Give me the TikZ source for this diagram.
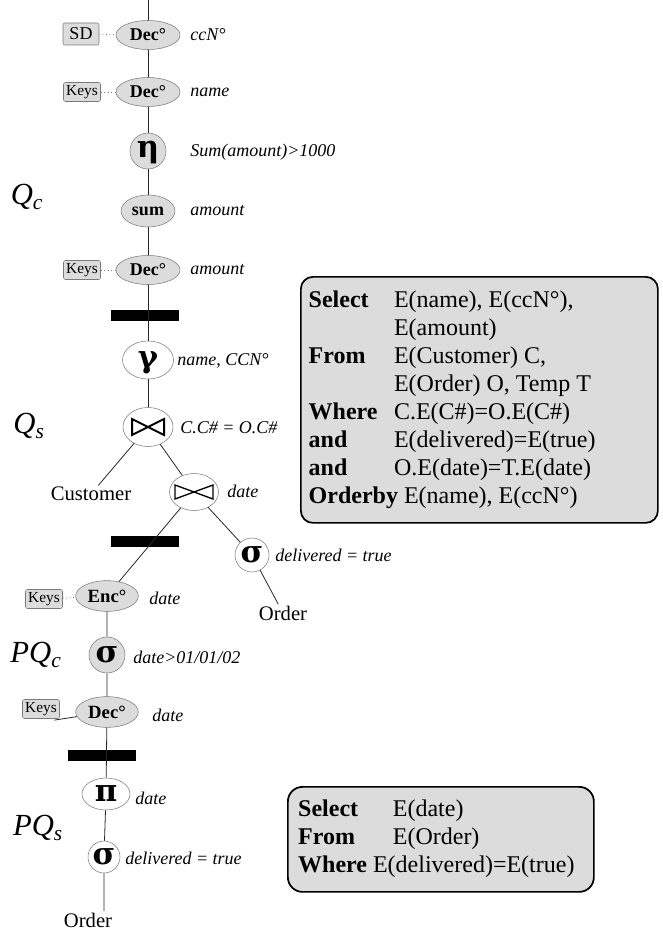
\documentclass[tikz,border=0pt]{standalone}
\usepackage{fontspec}
\setmainfont{Liberation Serif}
\newfontfamily\greekfont{DejaVu Serif}
\usetikzlibrary{shapes.geometric}
\definecolor{opgrey}{HTML}{DCDCDC}
\definecolor{rimgrey}{HTML}{7A7A7A}

\begin{document}
\begin{tikzpicture}[x=0.75pt,y=-0.75pt]
        \tikzset{
            opnode/.style={ellipse,draw=rimgrey,fill=opgrey,inner sep=0pt,minimum width=48pt,minimum height=21.75pt,font=\fontsize{13.5}{13.5}\selectfont\bfseries},
            opwhite/.style={opnode,fill=white},
            greek/.style={font=\fontsize{23}{23}\selectfont\greekfont\bfseries,text height=11.5pt,text depth=1pt},
            keynode/.style={rectangle,rounded corners=1.5pt,draw=rimgrey,fill=opgrey,inner sep=0pt,minimum width=27.75pt,minimum height=14.25pt,font=\fontsize{11.5}{11.5}\selectfont},
            barnode/.style={rectangle,fill=black,inner sep=0pt,minimum width=51pt,minimum height=8.25pt},
            lbl/.style={anchor=west,inner sep=0pt,font=\fontsize{13.5}{13.5}\selectfont\itshape},
            rel/.style={inner sep=1pt,font=\fontsize{15.5}{15.5}\selectfont},
            qlbl/.style={inner sep=0pt,font=\fontsize{23}{23}\selectfont\itshape},
            sqlbox/.style={rectangle,rounded corners=9pt,draw=black,line width=1.3pt,fill=opgrey,inner sep=0pt,anchor=north west,font=\fontsize{18}{21}\selectfont},
            spine/.style={draw=black!85,line width=0.6pt},
            keylink/.style={draw=rimgrey,dotted,line width=0.6pt},
        }
        \useasboundingbox (0,0) rectangle (663,934);

        % client side query Q_c
        \coordinate (top) at (148,0);
        \node[opnode] (dec1) at (148,35) {Dec°};
        \node[keynode,minimum width=27pt,minimum height=16.5pt,font=\fontsize{13.5}{13.5}\selectfont] (sd) at (81,34) {SD};
        \node[lbl] (l1) at (190,35) {ccN°};
        \node[opnode] (dec2) at (148,92) {Dec°};
        \node[keynode] (keys1) at (82,92) {Keys};
        \node[lbl] (l2) at (190,92) {name};
        \node[opnode,circle,minimum size=27pt,greek] (eta) at (148,151) {η};
        \node[lbl] (l3) at (190,152) {Sum(amount)>1000};
        \node[qlbl] (qc) at (27,197) {Q\textsubscript{c}};
        \node[opnode,minimum width=40.5pt,minimum height=24pt] (sumop) at (148,211) {sum};
        \node[lbl] (l4) at (190,211) {amount};
        \node[opnode] (dec3) at (148,270) {Dec°};
        \node[keynode] (keys2) at (82,270) {Keys};
        \node[lbl] (l5) at (190,270) {amount};
        \node[barnode] (bar1) at (145,315) {};

        % server side query Q_s
        \node[opwhite,greek,minimum width=38.25pt,minimum height=28.5pt] (gamma) at (148,360) {γ};
        \node[lbl] (l6) at (177,361) {name, CCN°};
        \node[opwhite,minimum width=37.5pt,minimum height=29.25pt] (join1) at (148,427) {};
        \node[lbl] (l7) at (180,428) {C.C\# = O.C\#};
        \node[qlbl] (qs) at (29,426) {Q\textsubscript{s}};
        \node[rel] (cust) at (91,494) {Customer};
        \node[opwhite,minimum width=36.75pt,minimum height=27.75pt] (join2) at (194,492) {};
        \node[lbl] (l8) at (227,491) {date};
        \node[opwhite,circle,minimum size=25.5pt,greek] (sig1) at (252,555) {σ};
        \node[lbl] (l9) at (275,555) {delivered = true};
        \node[rel] (ord1) at (283,613) {Order};
        \node[barnode] (bar2) at (145,541) {};

        % PQ_c
        \node[opnode,minimum width=47pt,minimum height=23pt,font=\fontsize{14}{14}\selectfont\bfseries] (enc) at (107,596) {Enc°};
        \node[keynode] (keys3) at (44,599) {Keys};
        \node[lbl] (l10) at (149,598) {date};
        \node[opnode,circle,minimum size=27pt,greek] (sig2) at (107,655) {σ};
        \node[qlbl] (pqc) at (36,655) {PQ\textsubscript{c}};
        \node[lbl] (l11) at (133,657) {date>01/01/02};
        \node[opnode,minimum width=47pt,minimum height=23pt,font=\fontsize{14}{14}\selectfont\bfseries] (dec4) at (107,712) {Dec°};
        \node[keynode] (keys4) at (41,709) {Keys};
        \node[lbl] (l12) at (152,715) {date};
        \node[barnode] (bar3) at (102,755) {};

        % PQ_s
        \node[opwhite,greek,minimum width=36pt,minimum height=24pt] (pi) at (106,794) {π};
        \node[lbl] (l13) at (135,798) {date};
        \node[qlbl] (pqs) at (38,828) {PQ\textsubscript{s}};
        \node[opwhite,circle,minimum size=24pt,greek] (sig3) at (104,857) {σ};
        \node[lbl] (l14) at (125,858) {delivered = true};
        \node[rel] (ord2) at (88,920) {Order};

        \draw[spine] (top) -- (dec1) -- (dec2) -- (eta) -- (sumop) -- (dec3) -- (gamma) -- (join1);
        \draw[spine] (enc) -- (sig2) -- (dec4) -- (pi) -- (sig3) -- (sig3 |- ord2.north);
        \draw[keylink] (sd) -- (dec1);
        \draw[keylink] (keys1) -- (dec2);
        \draw[keylink] (keys2) -- (dec3);
        \draw[keylink] (keys3) -- (enc);
        \draw[spine] ([xshift=-4pt,yshift=-1pt]keys4.south east) -- (dec4);
        \draw[spine] (join1) -- (cust);
        \draw[spine] (join1) -- (join2);
        \draw[spine] (join2) -- (sig1);
        \draw[spine] (sig1) -- (ord1);
        \draw[spine] (join2) -- (enc);

        % join symbols
        \draw[line width=1.5pt] ([shift={(-16,-8)}]join1.center) -- ([shift={(16,8)}]join1.center)
            -- ([shift={(16,-8)}]join1.center) -- ([shift={(-16,8)}]join1.center) -- cycle;
        \draw[line width=1pt] ([shift={(-19,-7)}]join2.center) -- ([shift={(19,7)}]join2.center)
            -- ([shift={(19,-7)}]join2.center) -- ([shift={(-19,7)}]join2.center) -- cycle;

        % queries
        \node[sqlbox,minimum width=267.75pt,minimum height=184.5pt] (sql1) at (300,276) {%
            \begin{tabular}{@{}p{64pt}@{}p{192pt}@{}}
            \textbf{Select} & E(name), E(ccN°),\\
             & E(amount)\\
            \textbf{From} & E(Customer) C,\\
             & E(Order) O, Temp T\\
            \textbf{Where} & C.E(C\#)=O.E(C\#)\\
            \textbf{and} & E(delivered)=E(true)\\
            \textbf{and} & O.E(date)=T.E(date)\\
            \multicolumn{2}{@{}l@{}}{\textbf{Orderby} E(name), E(ccN°)}
            \end{tabular}};
        \node[sqlbox,rounded corners=11pt,minimum width=229.5pt,minimum height=78.75pt] (sql2) at (287,786) {%
            \begin{tabular}{@{}p{71pt}@{}p{143pt}@{}}
            \textbf{Select} & E(date)\\
            \textbf{From} & E(Order)\\
            \multicolumn{2}{@{}l@{}}{\textbf{Where} E(delivered)=E(true)}
            \end{tabular}};
    \end{tikzpicture}
\end{document}
